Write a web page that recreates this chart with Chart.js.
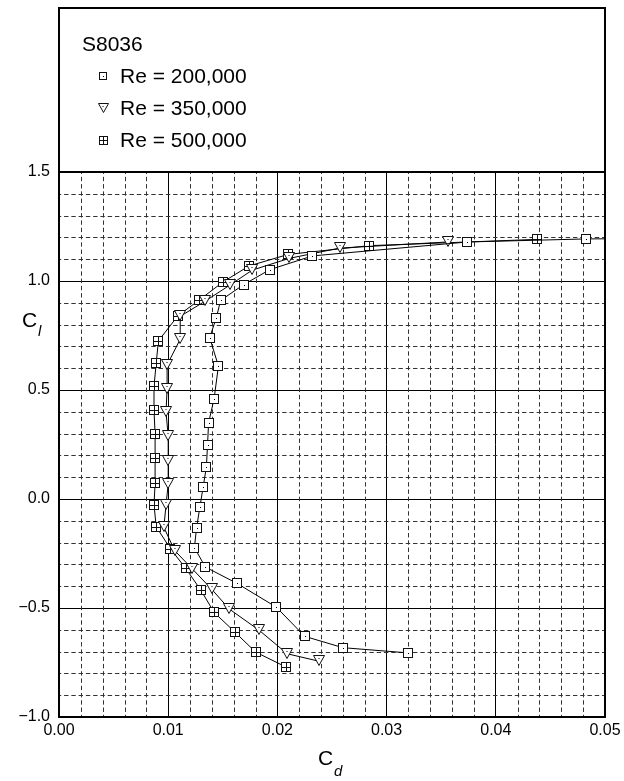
<!DOCTYPE html>
<html>
<head>
<meta charset="utf-8">
<script src="https://cdn.jsdelivr.net/npm/chart.js@4.4.1/dist/chart.umd.min.js"></script>
<style>
  body { margin: 0; background: #fff; }
  #wrap { position: relative; width: 624px; height: 781px; font-family: "Liberation Sans", Arial, sans-serif; color: #000; }
  #polar { position: absolute; left: 0; top: 0; }
  #legendBox { position: absolute; left: 58px; top: 7px; width: 548px; height: 166px; border: 2px solid #000; box-sizing: border-box; }
  .txt { position: absolute; white-space: nowrap; line-height: 1; }
  .mk { position: absolute; }
</style>
</head>
<body>
<div id="wrap">
  <canvas id="polar" width="624" height="781"></canvas>
  <div id="legendBox"></div>
  <span class="txt" style="left:318px; top:747px; font-size:21px">C</span>
  <span class="txt" style="left:334px; top:763px; font-size:15px; font-style:italic">d</span>
  <span class="txt" style="left:22px; top:309px; font-size:21px">C</span>
  <span class="txt" style="left:38px; top:323px; font-size:15px; font-style:italic">l</span>
</div>
<script>
const airfoil = "S8036";
const seriesLabels = ["Re = 200,000", "Re = 350,000", "Re = 500,000"];

// drag coefficient / lift coefficient
const cd200 = [0.0320, 0.0260, 0.0225, 0.0199, 0.0163, 0.0134, 0.0124, 0.0126, 0.0129, 0.0132, 0.0135, 0.0136,
               0.0137, 0.0142, 0.0146, 0.0138, 0.0144, 0.0148, 0.0169, 0.0193, 0.0232, 0.0374, 0.0483, 0.0580];
const cl200 = [-0.706, -0.682, -0.630, -0.496, -0.387, -0.312, -0.223, -0.132, -0.037, 0.055, 0.148, 0.246,
               0.350, 0.459, 0.610, 0.740, 0.830, 0.911, 0.983, 1.052, 1.115, 1.179, 1.193, 1.196];

const cd350 = [0.0238, 0.0209, 0.0183, 0.0156, 0.0140, 0.0122, 0.0106, 0.0096, 0.0098, 0.0100, 0.0100, 0.0100,
               0.0098, 0.0099, 0.0099, 0.0111, 0.0111, 0.0134, 0.0157, 0.0177, 0.0211, 0.0257, 0.0356];
const cl350 = [-0.744, -0.710, -0.601, -0.505, -0.415, -0.320, -0.237, -0.130, -0.028, 0.069, 0.176, 0.289,
               0.399, 0.503, 0.615, 0.733, 0.838, 0.908, 0.983, 1.050, 1.104, 1.151, 1.179];

const cd500 = [0.0208, 0.0180, 0.0161, 0.0142, 0.0130, 0.0116, 0.0102, 0.0089, 0.0087, 0.0088, 0.0088, 0.0088,
               0.0087, 0.0087, 0.0089, 0.0091, 0.0109, 0.0128, 0.0150, 0.0174, 0.0210, 0.0284, 0.0438];
const cl500 = [-0.771, -0.702, -0.610, -0.520, -0.419, -0.318, -0.228, -0.127, -0.026, 0.072, 0.188, 0.298,
               0.408, 0.517, 0.622, 0.725, 0.841, 0.911, 0.995, 1.069, 1.122, 1.162, 1.191];

const xTickValues = [0, 0.01, 0.02, 0.03, 0.04, 0.05];
const xTickLabels = ["0.00", "0.01", "0.02", "0.03", "0.04", "0.05"];
const yTickValues = [-1.0, -0.5, 0.0, 0.5, 1.0, 1.5];
const yTickLabels = ["\u22121.0", "\u22120.5", "0.0", "0.5", "1.0", "1.5"];

// marker images (integer pixel grid so they stay sharp)
function makeMarker(kind, size) {
  const c = document.createElement("canvas");
  const s = size;
  c.width = s + 2;
  c.height = s + 2;
  const g = c.getContext("2d");
  g.strokeStyle = "#111";
  g.fillStyle = "#fff";
  g.lineWidth = 1;
  if (kind === "tri") {
    g.beginPath();
    g.moveTo(0.5, 0.5);
    g.lineTo(s + 1.5, 0.5);
    g.lineTo((s + 2) / 2, s + 0.5);
    g.closePath();
    g.fill();
    g.stroke();
    g.fillStyle = "#000";
    g.fillRect(Math.floor((s + 2) / 2) - 0.5, Math.round(s * 0.33), 1, 1);
  } else {
    g.fillRect(0.5, 0.5, s + 1, s + 1);
    g.strokeRect(0.5, 0.5, s + 1, s + 1);
    g.fillStyle = "#000";
    const m = Math.floor((s + 2) / 2) + 0.5;
    if (kind === "cross") {
      g.beginPath();
      g.moveTo(m, 0.5); g.lineTo(m, s + 1.5);
      g.moveTo(0.5, m); g.lineTo(s + 1.5, m);
      g.stroke();
    } else {
      g.fillRect(m - 0.5, m - 0.5, 1, 1);
    }
  }
  return c;
}

const plotMarkers = [makeMarker("dot", 8), makeMarker("tri", 10), makeMarker("cross", 8)];

function pts(xs, ys) {
  return xs.map((x, i) => ({ x: x, y: ys[i] }));
}

const seriesData = [pts(cd200, cl200), pts(cd350, cl350), pts(cd500, cl500)];

// legend (html)
const box = document.getElementById("legendBox");
const title = document.createElement("span");
title.className = "txt";
title.style.cssText = "left:22px; top:24px; font-size:21px";
title.textContent = airfoil;
box.appendChild(title);
const legendMarkers = [makeMarker("dot", 6), makeMarker("tri", 9), makeMarker("cross", 7)];
seriesLabels.forEach((lab, i) => {
  const mk = legendMarkers[i];
  mk.className = "mk";
  mk.style.left = Math.round(43 - mk.width / 2) + "px";
  mk.style.top = Math.round(67 + 32 * i - mk.height / 2) + "px";
  box.appendChild(mk);
  const t = document.createElement("span");
  t.className = "txt";
  t.style.cssText = "left:60px; font-size:21px; top:" + (56 + 32 * i) + "px";
  t.textContent = lab;
  box.appendChild(t);
});

const minorGrid = {
  id: "minorGrid",
  beforeDatasetsDraw(chart) {
    const { ctx, chartArea: a, scales } = chart;
    ctx.save();
    ctx.strokeStyle = "#333";
    ctx.lineWidth = 1;
    ctx.setLineDash([4.4, 2.87]);
    ctx.lineDashOffset = 2.2;
    for (let i = 1; i < 25; i++) {
      if (i % 5 === 0) continue;
      const px = Math.round(scales.x.getPixelForValue(i * 0.002)) + 0.5;
      ctx.beginPath();
      ctx.moveTo(px, a.bottom);
      ctx.lineTo(px, a.top);
      ctx.stroke();
    }
    for (let j = 1; j < 25; j++) {
      if (j % 5 === 0) continue;
      const py = Math.round(scales.y.getPixelForValue(-1 + j * 0.1)) + 0.5;
      ctx.beginPath();
      ctx.moveTo(a.left, py);
      ctx.lineTo(a.right, py);
      ctx.stroke();
    }
    ctx.restore();
    ctx.imageSmoothingEnabled = false;
  },
  afterDraw(chart) {
    const { ctx, chartArea: a } = chart;
    ctx.save();
    ctx.strokeStyle = "#000";
    ctx.lineWidth = 2;
    ctx.strokeRect(a.left, a.top, a.right - a.left, a.bottom - a.top);
    ctx.restore();
  }
};

Chart.defaults.font.family = '"Liberation Sans", Arial, sans-serif';
Chart.defaults.font.size = 16;
Chart.defaults.color = "#000";

new Chart(document.getElementById("polar"), {
  type: "scatter",
  data: {
    datasets: seriesData.map((d, i) => ({
      label: seriesLabels[i],
      data: d,
      showLine: true,
      borderColor: "#000",
      borderWidth: 1,
      pointStyle: plotMarkers[i],
      pointRadius: 5,
      pointHoverRadius: 5
    }))
  },
  options: {
    responsive: false,
    animation: false,
    layout: { padding: { left: 0, top: 172, right: 19, bottom: 0 } },
    plugins: { legend: { display: false }, tooltip: { enabled: false } },
    scales: {
      x: {
        type: "linear",
        min: 0,
        max: 0.05,
        afterBuildTicks: s => { s.ticks = xTickValues.map(v => ({ value: v })); },
        afterFit: s => { s.height = 64; s.paddingLeft = 0; s.paddingRight = 0; },
        ticks: { padding: 4, maxRotation: 0, callback: (v, i) => xTickLabels[i] },
        grid: { color: "#000", lineWidth: 1, drawTicks: false },
        border: { display: false }
      },
      y: {
        type: "linear",
        min: -1,
        max: 1.5,
        afterBuildTicks: s => { s.ticks = yTickValues.map(v => ({ value: v })); },
        afterFit: s => { s.width = 59; s.paddingTop = 0; s.paddingBottom = 0; },
        ticks: { padding: 9, callback: (v, i) => yTickLabels[i] },
        grid: { color: "#000", lineWidth: 1, drawTicks: false },
        border: { display: false }
      }
    }
  },
  plugins: [minorGrid]
});
</script>
</body>
</html>
